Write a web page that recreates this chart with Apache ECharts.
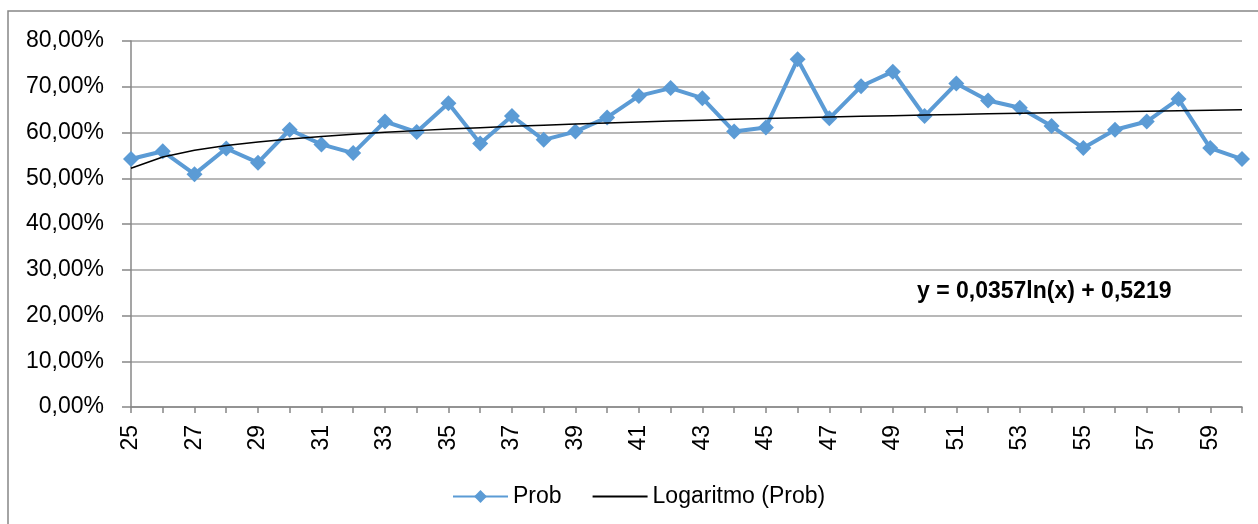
<!DOCTYPE html>
<html>
<head>
<meta charset="utf-8">
<script src="https://cdn.jsdelivr.net/npm/echarts@6/dist/echarts.min.js"></script>
<style>
html,body{margin:0;padding:0;background:#fff;}
#c{width:1258px;height:524px;}
</style>
</head>
<body>
<div id="c"></div>
<script>
const categories = ['25','26','27','28','29','30','31','32','33','34','35','36','37','38','39','40','41','42','43','44','45','46','47','48','49','50','51','52','53','54','55','56','57','58','59','60'];
const probValues = [0.542,0.559,0.509,0.565,0.534,0.606,0.574,0.555,0.624,0.601,0.664,0.576,0.636,0.584,0.602,0.633,0.680,0.697,0.675,0.602,0.611,0.760,0.631,0.701,0.733,0.636,0.707,0.670,0.654,0.614,0.566,0.606,0.624,0.673,0.566,0.542];
const trendValues = [0.5219,0.5466,0.5611,0.5714,0.5794,0.5859,0.5914,0.5961,0.6003,0.6041,0.6075,0.6106,0.6135,0.6161,0.6186,0.6209,0.6230,0.6251,0.6270,0.6288,0.6306,0.6322,0.6338,0.6354,0.6368,0.6382,0.6396,0.6409,0.6421,0.6433,0.6445,0.6456,0.6467,0.6478,0.6488,0.6498];
const seriesNames = ['Prob','Logaritmo (Prob)'];
const equationText = 'y = 0,0357ln(x) + 0,5219';

const FONT = 'Liberation Sans';
const chart = echarts.init(document.getElementById('c'));
chart.setOption({
  animation:false,
  backgroundColor:'#ffffff',
  textStyle:{fontFamily:FONT},
  grid:{left:131,right:16,top:41,bottom:117,containLabel:false},
  graphic:[
    {type:'polyline',shape:{points:[[8,530],[8,11],[1270,11]]},style:{stroke:'#868686',lineWidth:1.5,fill:null},silent:true},
    {type:'text',left:917,top:280,style:{text:equationText,font:'bold 23px "Liberation Sans"',fill:'#000'}}
  ],
  legend:{
    left:447,top:480,
    itemWidth:55,itemHeight:16,itemGap:30,
    textStyle:{fontSize:23,color:'#000',fontFamily:FONT},
    data:[
      {name:seriesNames[0]},
      {name:seriesNames[1],itemStyle:{opacity:0}}
    ]
  },
  xAxis:{
    type:'category',data:categories,boundaryGap:false,
    axisLine:{lineStyle:{color:'#878787',width:1.5}},
    axisTick:{show:true,interval:0,length:6,lineStyle:{color:'#878787',width:1.5}},
    axisLabel:{interval:1,rotate:90,margin:18,fontSize:23,color:'#000',fontFamily:FONT},
    splitLine:{show:false}
  },
  yAxis:{
    type:'value',min:0,max:0.8,interval:0.1,
    axisLine:{show:true,lineStyle:{color:'#878787',width:1.5}},
    axisTick:{show:true,length:9,lineStyle:{color:'#878787',width:1.5}},
    axisLabel:{margin:27,fontSize:23,color:'#000',fontFamily:FONT,
      formatter:v=>(v*100).toFixed(2).replace('.',',')+'%'},
    splitLine:{lineStyle:{color:'#A0A0A0',width:1.5}}
  },
  series:[
    {name:seriesNames[0],type:'line',data:probValues,
     symbol:'diamond',symbolSize:16,showSymbol:true,
     lineStyle:{color:'#5B9BD5',width:4},itemStyle:{color:'#5B9BD5'},z:2},
    {name:seriesNames[1],type:'line',data:trendValues,
     symbol:'none',lineStyle:{color:'#000',width:1.5},itemStyle:{color:'#000'},z:3}
  ]
});
</script>
</body>
</html>
